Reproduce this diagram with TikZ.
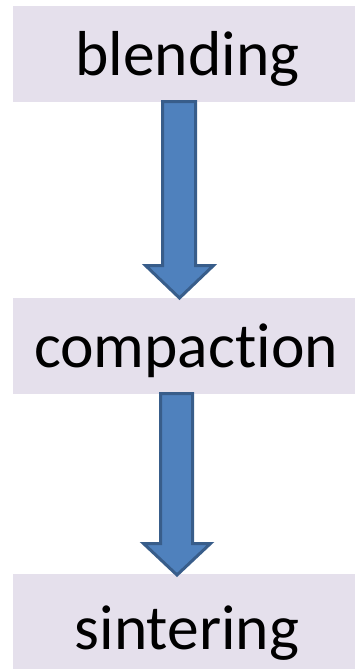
\documentclass[tikz,border=0pt]{standalone}
\usepackage{fontspec}
\setmainfont{Carlito}[Ligatures={NoCommon,NoRare,NoDiscretionary}]
\usetikzlibrary{calc}
\definecolor{boxfill}{HTML}{E5E0EC}
\definecolor{arrfill}{HTML}{4F81BD}
\definecolor{arrdraw}{HTML}{385D8A}
\tikzset{
  stagebox/.style={fill=boxfill, draw=none, inner sep=0pt, minimum width=342pt, minimum height=96pt},
  stagetext/.style={anchor=base, inner sep=0pt, font=\fontsize{63.5}{63.5}\selectfont},
  blockarrow/.style={fill=arrfill, draw=arrdraw, line width=3pt, line join=miter}
}
\begin{document}
\begin{tikzpicture}[x=1pt,y=-1pt]
\useasboundingbox (0,0) rectangle (355,669);
% boxes
\node[stagebox] (b1) at (184,54) {};
\node[stagebox] (b2) at (184,346) {};
\node[stagebox, minimum height=97pt] (b3) at (184,622) {};
% texts
\node[stagetext] (t1) at (187.5,75) {blending};
\node[stagetext] (t2) at (186,367) {compaction};
\node[stagetext] (t3) at (187,649) {sintering};
% arrows
\coordinate (a1top) at (179,101.5);
\coordinate (a1tip) at (179.5,298);
\draw[blockarrow] ($(a1top)+(-16.5,0)$) -- ($(a1top)+(16.5,0)$) -- (195.5,265.5) -- (213.5,265.5) -- (a1tip) -- (145.5,265.5) -- (162.5,265.5) -- cycle;
\coordinate (a2top) at (176.5,393.5);
\coordinate (a2tip) at (177,575);
\draw[blockarrow] ($(a2top)+(-16,0)$) -- ($(a2top)+(16,0)$) -- (192.5,543.5) -- (210.5,543.5) -- (a2tip) -- (143.5,543.5) -- (160.5,543.5) -- cycle;
\end{tikzpicture}
\end{document}
